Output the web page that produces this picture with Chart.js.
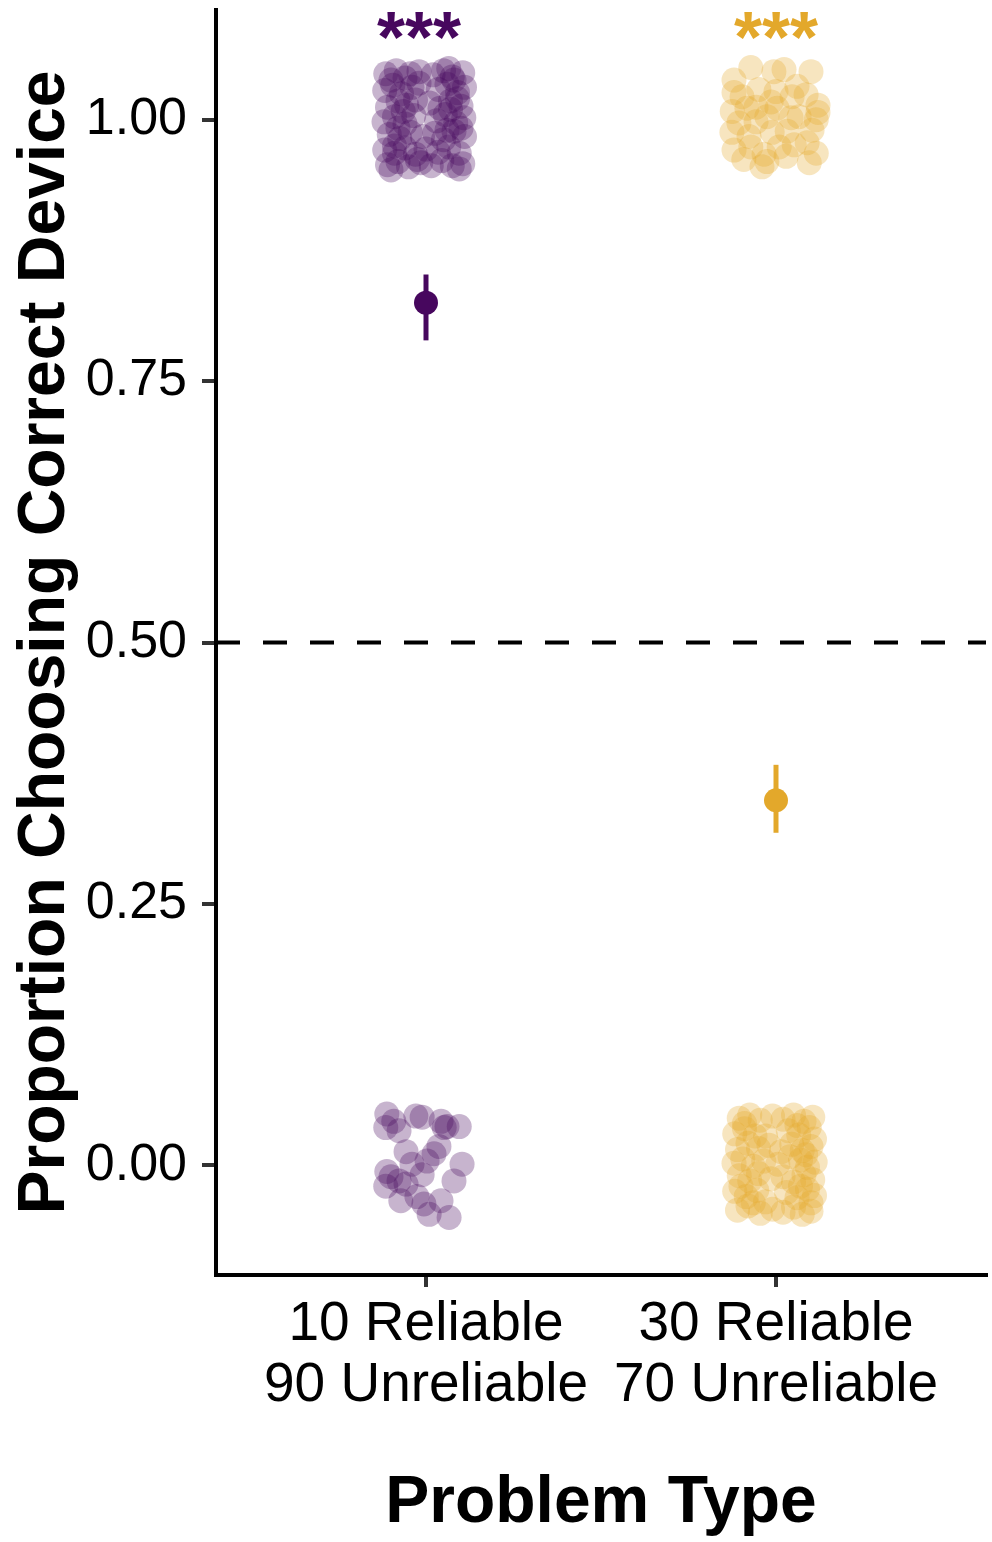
<!DOCTYPE html>
<html>
<head>
<meta charset="utf-8">
<script src="https://cdn.jsdelivr.net/npm/chart.js@4.4.1/dist/chart.umd.min.js"></script>
<style>
  html, body { margin: 0; padding: 0; background: #fff; }
  #wrap { width: 992px; height: 1542px; }
</style>
</head>
<body>
<div id="wrap"><canvas id="chart" width="992" height="1542"></canvas></div>
<script>
// categories (x = 1, 2)
var categories = [["10 Reliable", "90 Unreliable"], ["30 Reliable", "70 Unreliable"]];
var yTicks = [0, 0.25, 0.5, 0.75, 1];

// mean +/- error per problem type
var meanValues = [0.825, 0.349];
var errLow = [0.789, 0.318];
var errHigh = [0.852, 0.383];

var chanceLevel = 0.5;
var starText = "***";
var starX = [0.98, 2.0];
var starY = 1.086;

// jittered individual choices: [x offset from category, y]
var purpleCorrect = [
  [-0.115,1.044],[-0.085,1.047],[-0.06,1.040],[-0.02,1.046],[0.02,1.043],[0.05,1.047],[0.075,1.041],[0.105,1.045],
  [-0.118,1.028],[-0.095,1.033],[-0.07,1.025],[-0.04,1.031],[0.035,1.029],[0.06,1.034],[0.09,1.026],[0.11,1.031],
  [-0.11,1.012],[-0.08,1.018],[-0.055,1.014],[-0.03,1.019],[0.01,1.016],[0.04,1.011],[0.07,1.018],[0.1,1.013],
  [-0.12,0.998],[-0.09,1.003],[-0.06,0.996],[-0.035,1.004],[0.03,0.999],[0.055,1.005],[0.085,0.997],[0.108,1.002],
  [-0.105,0.986],[-0.075,0.982],[-0.045,0.988],[-0.01,0.984],[0.025,0.987],[0.05,0.981],[0.08,0.989],[0.11,0.984],
  [-0.118,0.971],[-0.09,0.968],[-0.06,0.973],[-0.03,0.967],[0.0,0.972],[0.035,0.969],[0.065,0.974],[0.095,0.968],
  [-0.11,0.957],[-0.08,0.960],[-0.05,0.955],[-0.015,0.959],[0.015,0.956],[0.045,0.961],[0.075,0.956],[0.105,0.958],
  [-0.1,1.038],[-0.02,1.035],[0.08,1.038],[-0.09,0.975],[0.1,0.992],[-0.065,1.008],[0.06,0.990],[-0.025,0.962],[0.09,1.020],
  [-0.045,1.044],[0.065,1.049],[-0.1,0.952],[0.095,0.953],[-0.08,0.992],[0.07,1.010]
];
var purpleWrong = [
  [-0.112,0.049],[-0.092,0.042],[-0.115,0.036],[-0.077,0.033],[-0.029,0.047],[-0.011,0.046],[0.043,0.042],
  [0.060,0.037],[0.095,0.037],[0.052,0.036],[-0.057,0.013],[0.037,0.018],[0.023,0.011],[0.003,0.004],
  [-0.040,0.001],[0.103,0.001],[-0.112,-0.006],[-0.100,-0.011],[-0.077,-0.015],[-0.057,-0.018],[-0.115,-0.020],
  [-0.011,-0.009],[0.080,-0.015],[-0.072,-0.034],[-0.006,-0.037],[0.043,-0.034],[0.009,-0.047],[0.066,-0.050],[-0.026,-0.030]
];
var goldCorrect = [
  [-0.120,1.038],[-0.072,1.050],[-0.006,1.046],[0.023,1.048],[0.100,1.046],[-0.120,1.026],[-0.097,1.022],
  [-0.049,1.029],[-0.014,1.017],[0.060,1.032],[0.086,1.024],[0.120,1.014],[-0.125,1.008],[-0.083,1.011],
  [0.003,1.011],[0.043,1.002],[0.066,1.003],[0.115,1.000],[-0.106,0.997],[-0.057,0.998],[-0.026,1.003],
  [-0.126,0.988],[-0.077,0.984],[-0.011,0.988],[0.032,0.989],[0.103,0.990],[0.120,1.007],[-0.120,0.971],
  [-0.072,0.974],[-0.034,0.967],[0.009,0.974],[0.052,0.976],[0.089,0.978],[0.115,0.968],[-0.040,0.955],
  [-0.026,0.960],[0.095,0.959],[0.029,0.965],[-0.092,0.962],[-0.057,1.012],[0.046,1.022],[0.000,1.027]
];
var goldWrong = [
  [-0.105,0.045],[-0.075,0.048],[-0.045,0.043],[-0.01,0.047],[0.02,0.044],[0.05,0.048],[0.08,0.042],[0.105,0.046],
  [-0.118,0.030],[-0.09,0.035],[-0.06,0.028],[0.035,0.033],[0.065,0.029],[0.095,0.036],[0.11,0.025],
  [-0.11,0.015],[-0.08,0.021],[-0.05,0.016],[-0.02,0.019],[0.015,0.013],[0.045,0.020],[0.075,0.014],[0.1,0.018],
  [-0.12,0.002],[-0.095,0.006],[-0.065,-0.001],[-0.035,0.004],[0.005,0.001],[0.07,0.005],[0.09,-0.002],[0.112,0.003],
  [-0.105,-0.010],[-0.075,-0.015],[-0.05,-0.008],[-0.015,-0.013],[0.02,-0.011],[0.05,-0.016],[0.08,-0.009],[0.105,-0.014],
  [-0.118,-0.025],[-0.085,-0.030],[-0.055,-0.024],[0.03,-0.026],[0.06,-0.031],[0.09,-0.023],[0.11,-0.029],
  [-0.11,-0.043],[-0.08,-0.039],[-0.045,-0.046],[-0.01,-0.042],[0.02,-0.045],[0.05,-0.040],[0.075,-0.047],[0.1,-0.044],
  [-0.09,0.040],[0.06,0.038],[-0.03,0.028],[0.085,0.010],[-0.1,-0.020],[0.07,-0.020],[-0.065,-0.036],[0.04,0.008],[0.1,-0.036],[-0.03,-0.035]
];

var colors = ["#47075E", "#E3A82B"];
var fades = ["rgba(71,7,94,0.3)", "rgba(227,168,43,0.3)"];

function toPoints(list, cat)
{
	return list.map(function(p) { return {x: cat + p[0], y: p[1]}; });
}

var datasets = [];
// mean points
for (var i = 0; i < meanValues.length; i++)
{
	datasets.push({
		type: 'scatter',
		data: [{x: i + 1, y: meanValues[i]}],
		backgroundColor: colors[i],
		borderWidth: 0,
		pointRadius: 12,
		order: 1
	});
	datasets.push({
		type: 'line',
		data: [{x: i + 1, y: errLow[i]}, {x: i + 1, y: errHigh[i]}],
		borderColor: colors[i],
		borderWidth: 5,
		pointRadius: 0,
		order: 2
	});
}
// chance line
datasets.push({
	type: 'line',
	data: [{x: 0.4, y: chanceLevel}, {x: 2.6, y: chanceLevel}],
	borderColor: '#000',
	borderWidth: 4,
	borderDash: [24, 23],
	pointRadius: 0,
	order: 3
});
// individual points
[[purpleCorrect, 1, 0], [purpleWrong, 1, 0], [goldCorrect, 2, 1], [goldWrong, 2, 1]].forEach(function(g)
{
	datasets.push({
		type: 'scatter',
		data: toPoints(g[0], g[1]),
		backgroundColor: fades[g[2]],
		borderWidth: 0,
		pointRadius: 12.5,
		order: 4
	});
});

var starPlugin = {
	id: 'stars',
	afterDatasetsDraw: function(chart)
	{
		var ctx = chart.ctx;
		ctx.save();
		ctx.font = "bold 72px 'Liberation Sans', Arial, sans-serif";
		ctx.textAlign = 'center';
		ctx.textBaseline = 'middle';
		for (var i = 0; i < starX.length; i++)
		{
			ctx.fillStyle = colors[i];
			ctx.fillText(starText, chart.scales.x.getPixelForValue(starX[i]), chart.scales.y.getPixelForValue(starY) + 12);
		}
		ctx.restore();
	}
};

var ctx = document.getElementById("chart").getContext('2d');
var myChart = new Chart(ctx, {
	data: { datasets: datasets },
	plugins: [starPlugin],
	options: {
		responsive: false,
		animation: false,
		devicePixelRatio: 1,
		layout: { autoPadding: false, padding: { top: 10, right: 6, left: 0, bottom: 0 } },
		plugins: { legend: { display: false }, tooltip: { enabled: false } },
		elements: { line: { tension: 0 } },
		datasets: { scatter: { clip: false }, line: { clip: false } },
		scales: {
			x: {
				type: 'linear',
				min: 0.4,
				max: 2.6,
				afterBuildTicks: function(scale) { scale.ticks = [{value: 1}, {value: 2}]; },
				afterFit: function(scale) {
					scale.height = 267;
					scale.paddingLeft = 0; scale.paddingRight = 0;
				},
				ticks: {
					callback: function(v) { return categories[Math.round(v) - 1]; },
					font: { family: "'Liberation Sans', Arial, sans-serif", size: 55, lineHeight: 1.1 },
					color: '#000',
					padding: 8,
					maxRotation: 0
				},
				grid: { drawOnChartArea: false, drawTicks: true, tickLength: 12, color: '#333', lineWidth: 4 },
				border: { color: '#000', width: 4 },
				title: {
					display: true,
					text: 'Problem Type',
					color: '#000',
					font: { family: "'Liberation Sans', Arial, sans-serif", size: 66, weight: 'bold', lineHeight: 1.15 },
					padding: { top: 0, bottom: 0 }
				}
			},
			y: {
				type: 'linear',
				min: -0.105,
				max: 1.105,
				afterBuildTicks: function(scale) { scale.ticks = yTicks.map(function(v) { return {value: v}; }); },
				afterFit: function(scale) {
					scale.width = 216;
					scale.paddingTop = 0; scale.paddingBottom = 0;
				},
				ticks: {
					callback: function(v) { return v.toFixed(2); },
					font: { family: "'Liberation Sans', Arial, sans-serif", size: 52 },
					color: '#000',
					padding: 15
				},
				grid: { drawOnChartArea: false, drawTicks: true, tickLength: 14, color: '#333', lineWidth: 4 },
				border: { color: '#000', width: 4 },
				title: {
					display: true,
					text: 'Proportion Choosing Correct Device',
					color: '#000',
					font: { family: "'Liberation Sans', Arial, sans-serif", size: 66, weight: 'bold', lineHeight: 1.2 },
					padding: { top: 6, bottom: 0 }
				}
			}
		}
	}
});
</script>
</body>
</html>
